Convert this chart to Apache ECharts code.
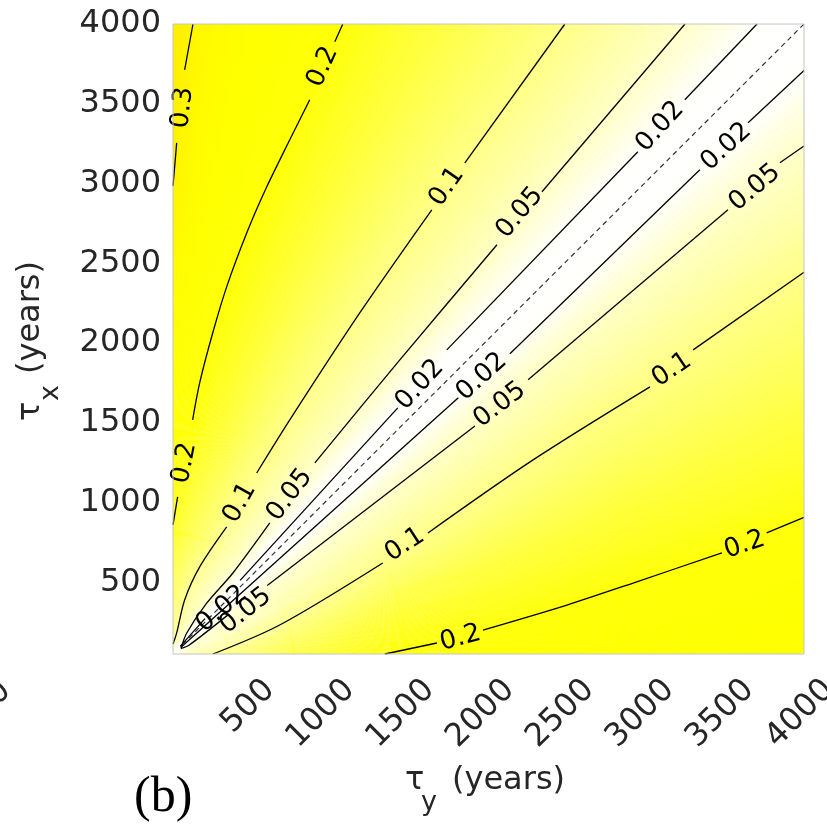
<!DOCTYPE html>
<html><head><meta charset="utf-8">
<script src="https://cdn.jsdelivr.net/npm/echarts@6/dist/echarts.min.js"></script>
<style>html,body{margin:0;padding:0;background:#fff}#main{width:827px;height:826px}</style>
</head><body><div id="main"></div>
<script>
// ---------- axes ----------
const tauMin = 50, tauMax = 4000;
const xTicks = [500, 1000, 1500, 2000, 2500, 3000, 3500, 4000];
const yTicks = [500, 1000, 1500, 2000, 2500, 3000, 3500, 4000];

// ---------- background field ----------
// angle (deg) = atan2(tau_x, tau_y), radius = sqrt(tau_x^2 + tau_y^2)
const fieldAngles = [0,3,6,10,15,20,25,30,35,38,40,42,43.5,45,46.5,48,50,52,55,60,65,70,75,80,85,88,90];
const fieldRadii = [150, 400, 800, 1500, 3000, 4300];
const field_r150  = [0.110,0.106,0.100,0.090,0.078,0.066,0.056,0.047,0.037,0.030,0.024,0.015,0.0075,0,0.0075,0.015,0.024,0.033,0.045,0.064,0.085,0.103,0.115,0.125,0.135,0.140,0.145];
const field_r400  = [0.130,0.125,0.118,0.106,0.088,0.074,0.064,0.055,0.045,0.037,0.030,0.019,0.0095,0,0.0095,0.019,0.028,0.038,0.051,0.066,0.077,0.092,0.108,0.125,0.145,0.160,0.170];
const field_r800  = [0.165,0.158,0.148,0.135,0.115,0.095,0.078,0.063,0.050,0.040,0.032,0.020,0.010,0,0.010,0.021,0.032,0.045,0.060,0.078,0.095,0.115,0.135,0.155,0.185,0.210,0.225];
const field_r1500 = [0.210,0.200,0.187,0.170,0.148,0.124,0.098,0.077,0.056,0.044,0.035,0.021,0.011,0,0.011,0.022,0.033,0.045,0.062,0.085,0.108,0.130,0.155,0.180,0.210,0.235,0.250];
const field_r3000 = [0.235,0.225,0.213,0.198,0.172,0.147,0.122,0.098,0.070,0.054,0.040,0.024,0.013,0,0.013,0.025,0.039,0.055,0.072,0.098,0.125,0.152,0.182,0.215,0.255,0.290,0.310];
const field_r4300 = [0.255,0.245,0.233,0.216,0.186,0.157,0.130,0.105,0.074,0.056,0.042,0.026,0.0135,0,0.0135,0.026,0.042,0.057,0.078,0.110,0.138,0.168,0.205,0.237,0.275,0.305,0.320];
const fieldRows = [field_r150, field_r400, field_r800, field_r1500, field_r3000, field_r4300];

// colour map
const cmapValues = [0, 0.02, 0.05, 0.1, 0.15, 0.2, 0.25, 0.29, 0.34];
const cmapColors = ['#ffffff','#fffffb','#ffffc8','#ffff85','#ffff40','#ffff08','#ffff00','#fff800','#ffe000'];

// ---------- contour lines [tau_y, tau_x], split where labels sit ----------
const contour_030 = [
  [[50,2985],[60,3100],[73,3255]],
  [[123,3713],[175,4000]]
];
const contour_020_upper = [
  [[50,860],[79,1035]],
  [[173,1518],[217,1750],[299,2064],[386,2352],[512,2691],[637,2979],[781,3274],[906,3525]],
  [[1063,3889],[1113,4000]]
];
const contour_010_upper = [
  [[50,112],[73,182],[123,389],[217,596],[386,847]],
  [[574,1185],[781,1518],[1220,2190],[1670,2835]],
  [[1877,3130],[2503,4000]]
];
const contour_005_upper = [
  [[100,85],[136,182],[262,370],[425,558],[656,872]],
  [[938,1248],[1470,1894],[2078,2616]],
  [[2360,2948],[3255,4000]]
];
const contour_002_upper = [
  [[95,98],[250,272]],
  [[470,512],[1457,1593]],
  [[1764,1957],[2960,3199]],
  [[3254,3525],[3706,4000]]
];
const contour_002_lower = [
  [[100,92],[1836,1656]],
  [[2159,1932],[3348,3086]],
  [[3650,3381],[4000,3708]]
];
const contour_005_lower = [
  [[100,85],[150,105],[400,300]],
  [[640,480],[1940,1480]],
  [[2273,1769],[3524,2835]],
  [[3849,3130],[4000,3235]]
];
const contour_010_lower = [
  [[300,50],[718,232],[1363,621]],
  [[1646,809],[2304,1267],[3036,1725]],
  [[3306,1957],[4000,2444]]
];
const contour_020_lower = [
  [[1376,50],[1702,119]],
  [[1990,200],[2516,357],[2930,495],[3486,684]],
  [[3766,809],[4000,906]]
];
const diagonal = [[110,110],[4000,4000]];

// contour labels
const labelPos   = [[111,3475],[988,3732],[123,1248],[468,997],[1764,2980],[781,1047],[2221,2816],[355,332],[1595,1737],[3099,3356],[1983,1788],[3513,3230],[505,320],[2096,1612],[3692,2973],[1501,734],[3173,1831],[1850,150],[3628,734]];
const labelText  = ['0.3','0.2','0.2','0.1','0.1','0.05','0.05','0.02','0.02','0.02','0.02','0.02','0.05','0.05','0.05','0.1','0.1','0.2','0.2'];
const labelAngle = [84,66,79,61,55,53,50,40,47.5,48,42,42.5,38,37.5,40,33,34,15,19];

// ---------- helpers ----------
function hexRgb(h){return [parseInt(h.slice(1,3),16),parseInt(h.slice(3,5),16),parseInt(h.slice(5,7),16)];}
const cmapRgb = cmapColors.map(hexRgb);
function colorFor(v){
  if (v <= cmapValues[0]) return cmapColors[0];
  const n = cmapValues.length;
  if (v >= cmapValues[n-1]) return cmapColors[n-1];
  let k = 0; while (v > cmapValues[k+1]) k++;
  const f = (v - cmapValues[k]) / (cmapValues[k+1] - cmapValues[k]);
  const a = cmapRgb[k], b = cmapRgb[k+1];
  return 'rgb(' + [0,1,2].map(i => Math.round(a[i] + (b[i]-a[i])*f)).join(',') + ')';
}
function fieldAt(theta, rho){
  const A = fieldAngles, R = fieldRadii;
  const t = Math.max(A[0], Math.min(A[A.length-1], theta));
  const r = Math.max(R[0], Math.min(R[R.length-1], rho));
  let i = 0; while (i < A.length-2 && t > A[i+1]) i++;
  let j = 0; while (j < R.length-2 && r > R[j+1]) j++;
  const ft = (t - A[i]) / (A[i+1] - A[i]);
  const fr = (r - R[j]) / (R[j+1] - R[j]);
  const lo = fieldRows[j][i]*(1-ft) + fieldRows[j][i+1]*ft;
  const hi = fieldRows[j+1][i]*(1-ft) + fieldRows[j+1][i+1]*ft;
  return lo*(1-fr) + hi*fr;
}

// cells of the field table: [theta0, theta1, rho0, rho1]
const rhoEdges = [60].concat(fieldRadii, [5700]);
const fieldCells = [];
for (let i = 0; i < fieldAngles.length-1; i++)
  for (let j = 0; j < rhoEdges.length-1; j++)
    fieldCells.push([fieldAngles[i], fieldAngles[i+1], rhoEdges[j], rhoEdges[j+1]]);

const chart = echarts.init(document.getElementById('main'), null, {renderer:'canvas'});
const FONT = 'DejaVu Sans';
const TXT = '#262626';

function heatRender(params, api){
  const t0 = api.value(0), t1 = api.value(1), r0 = api.value(2), r1 = api.value(3);
  const n = Math.max(1, Math.ceil((t1 - t0) / 0.25));
  const D = Math.PI/180;
  const P = (r, d) => api.coord([r*Math.cos(d*D), r*Math.sin(d*D)]);
  const children = [];
  for (let k = 0; k < n; k++){
    const a = t0 + (t1-t0)*k/n - 0.04, b = t0 + (t1-t0)*(k+1)/n + 0.04;
    const m = t0 + (t1-t0)*(k+0.5)/n;
    const re = r1 + 15;
    const pts = [P(r0,a), P(r0,b), P(re,b), P(re,a)];
    const g0 = P(r0, m), g1 = P(r1, m);
    const stops = [0,0.25,0.5,0.75,1].map(f => ({offset:f, color: colorFor(fieldAt(m, r0 + (r1-r0)*f))}));
    children.push({type:'polygon', shape:{points:pts},
      style:{fill:{type:'linear', x:g0[0], y:g0[1], x2:g1[0], y2:g1[1], colorStops:stops, global:true}, stroke:null}});
  }
  return {type:'group', children};
}

const contourSegments = [].concat(contour_030, contour_020_upper, contour_010_upper, contour_005_upper,
  contour_002_upper, contour_002_lower, contour_005_lower, contour_010_lower, contour_020_lower);

const series = [{
  type:'custom', renderItem: heatRender, data: fieldCells, clip:true, silent:true, z:1, progressive:0,
  encode:{x:-1, y:-1}
}];
contourSegments.forEach(seg => series.push({
  type:'line', data: seg, showSymbol:false, smooth:0.3, silent:true, z:3, clip:true,
  lineStyle:{color:'#000', width:1.3}
}));
series.push({type:'line', data: diagonal, showSymbol:false, silent:true, z:3,
  lineStyle:{color:'#333', width:1.2, type:[5,4]}});
series.push({
  type:'custom', z:4, clip:false, silent:true, data: labelPos,
  renderItem:(p, api) => {
    const c = api.coord([api.value(0), api.value(1)]);
    const k = p.dataIndex;
    return {type:'text', x:c[0], y:c[1], rotation: labelAngle[k]*Math.PI/180,
      style:{text: labelText[k], fontSize:26, fontFamily:FONT, fill:'#000', align:'center', verticalAlign:'middle'}};
  }
});

chart.setOption({
  animation:false,
  backgroundColor:'#fff',
  grid:{left:173, top:24, width:631, height:630},
  xAxis:{type:'value', min:tauMin, max:tauMax, axisLabel:{show:false}, axisTick:{show:false},
    axisLine:{show:false}, splitLine:{show:false}},
  yAxis:{type:'value', min:tauMin, max:tauMax, axisTick:{show:false}, axisLine:{show:false}, splitLine:{show:false},
    axisLabel:{customValues: yTicks, formatter: v => String(v), margin:12, fontSize:32, fontFamily:FONT, color:TXT}},
  series
});

// ---------- frame, rotated x tick labels, titles ----------
const tl = chart.convertToPixel({gridIndex:0}, [tauMin, tauMax]);
const br = chart.convertToPixel({gridIndex:0}, [tauMax, tauMin]);
const graphics = [{type:'rect', z:100, silent:true, shape:{x:tl[0], y:tl[1], width:br[0]-tl[0], height:br[1]-tl[1]},
  style:{fill:null, stroke:'#c4c4c4', lineWidth:1}}];
xTicks.forEach(t => {
  const px = chart.convertToPixel({xAxisIndex:0}, t);
  graphics.push({type:'text', z:100, x:px+25, y:br[1]+31, rotation:Math.PI/4,
    style:{text:String(t), fontSize:32, fontFamily:FONT, fill:TXT, align:'right', verticalAlign:'middle'}});
});
// partial label at the far left edge
graphics.push({type:'text', z:100, x:6, y:686, rotation:Math.PI/4,
  style:{text:'0', fontSize:32, fontFamily:FONT, fill:TXT, align:'right', verticalAlign:'middle'}});
// y title
graphics.push({type:'text', z:100, x:31, y:421, rotation:Math.PI/2, style:{text:'τ', fontSize:32, fontFamily:FONT, fill:TXT, align:'left', verticalAlign:'middle'}});
graphics.push({type:'text', z:100, x:51, y:401, rotation:Math.PI/2, style:{text:'x', fontSize:27, fontFamily:FONT, fill:TXT, align:'left', verticalAlign:'middle'}});
graphics.push({type:'text', z:100, x:31, y:374, rotation:Math.PI/2, style:{text:'(years)', fontSize:32, fontFamily:FONT, fill:TXT, align:'left', verticalAlign:'middle'}});
// x title
graphics.push({type:'text', z:100, x:405, y:781, style:{text:'τ', fontSize:32, fontFamily:FONT, fill:TXT, align:'left', verticalAlign:'middle'}});
graphics.push({type:'text', z:100, x:421, y:803, style:{text:'y', fontSize:27, fontFamily:FONT, fill:TXT, align:'left', verticalAlign:'middle'}});
graphics.push({type:'text', z:100, x:452, y:781, style:{text:'(years)', fontSize:32, fontFamily:FONT, fill:TXT, align:'left', verticalAlign:'middle'}});
// panel tag
graphics.push({type:'text', z:100, x:134, y:798, style:{text:'(b)', fontSize:50, fontFamily:'Liberation Serif', fill:'#000', align:'left', verticalAlign:'middle'}});
chart.setOption({graphic: graphics});
</script>
</body></html>
